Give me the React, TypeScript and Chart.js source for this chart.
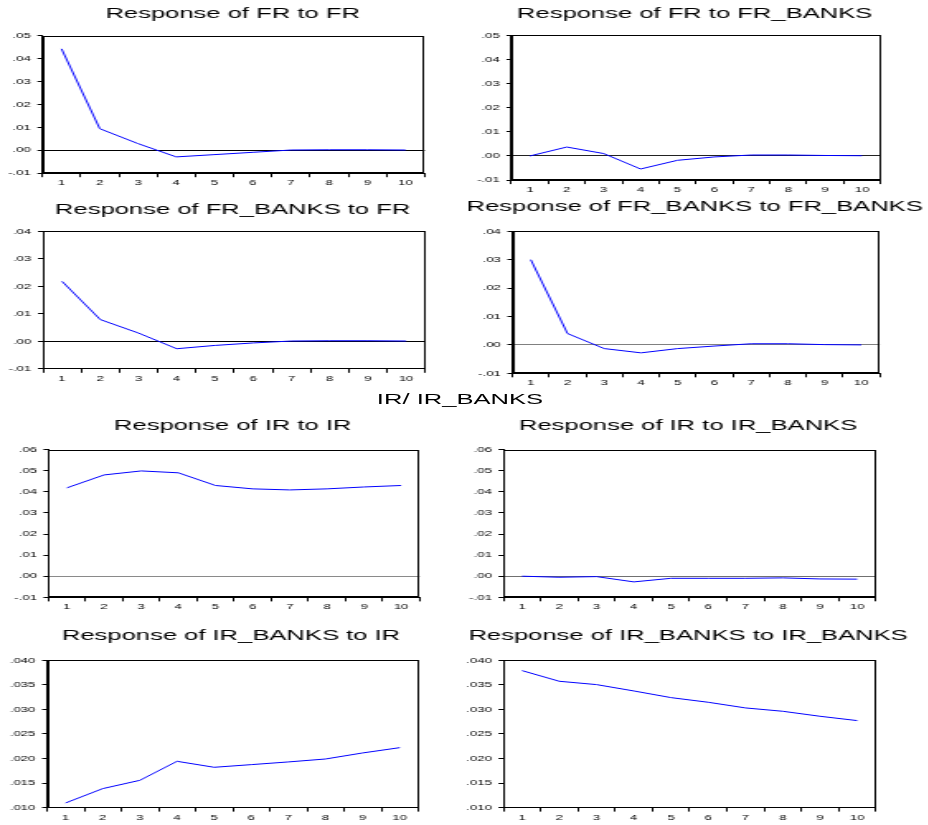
import React, { useEffect, useRef } from "react";
import { Chart, registerables } from "chart.js";

Chart.register(...registerables);

// Horizontal stretch applied to the whole figure (text and lines alike).
const STRETCH = 1.65;
const FONT = '"Liberation Sans", Arial, Helvetica, sans-serif';

// Horizon (periods after the shock)
const periods = ["1", "2", "3", "4", "5", "6", "7", "8", "9", "10"];

// Impulse responses
const frToFr = [0.0442, 0.0094, 0.0029, -0.0029, -0.0019, -0.0009, 0.0001, 0.0002, 0.0002, 0.0001];
const frToFrBanks = [0.0, 0.0037, 0.001, -0.0054, -0.0018, -0.0004, 0.0004, 0.0004, 0.0002, 0.0001];
const frBanksToFr = [0.0218, 0.0079, 0.003, -0.0027, -0.0015, -0.0006, 0.0001, 0.0002, 0.0002, 0.0001];
const frBanksToFrBanks = [0.03, 0.004, -0.0013, -0.0028, -0.0013, -0.0004, 0.0004, 0.0004, 0.0001, 0.0];
const irToIr = [0.0419, 0.048, 0.0499, 0.049, 0.043, 0.0414, 0.0409, 0.0414, 0.0423, 0.043];
const irToIrBanks = [0.0, -0.0005, -0.0002, -0.0027, -0.001, -0.001, -0.001, -0.0008, -0.0013, -0.0014];
const irBanksToIr = [0.01095, 0.01387, 0.01556, 0.01943, 0.01821, 0.01875, 0.0193, 0.0199, 0.02113, 0.02221];
const irBanksToIrBanks = [0.0379, 0.03573, 0.03505, 0.03376, 0.0324, 0.03145, 0.0303, 0.02962, 0.0286, 0.02772];

// Panel titles
const titles = [
  "Response of FR to FR",
  "Response of FR to FR_BANKS",
  "Response of FR_BANKS to FR",
  "Response of FR_BANKS to FR_BANKS",
  "Response of IR to IR",
  "Response of IR to IR_BANKS",
  "Response of IR_BANKS to IR",
  "Response of IR_BANKS to IR_BANKS",
];
const sectionLabel = "IR/ IR_BANKS";

// Y-axis ranges: [min, max, step, decimals]
const rangeFr1: [number, number, number, number] = [-0.01, 0.05, 0.01, 2];
const rangeFr2: [number, number, number, number] = [-0.01, 0.04, 0.01, 2];
const rangeIr1: [number, number, number, number] = [-0.01, 0.06, 0.01, 2];
const rangeIr2: [number, number, number, number] = [0.01, 0.04, 0.005, 3];

type PanelSpec = {
  title: string;
  data: number[];
  range: [number, number, number, number];
  zeroColor: string;
  // plot box and title centre, in page pixels
  L: number;
  R: number;
  T: number;
  B: number;
  tx: number;
  ty: number;
};

const panels: PanelSpec[] = [
  { title: titles[0], data: frToFr, range: rangeFr1, zeroColor: "#000000", L: 42.7, R: 425, T: 35, B: 172.7, tx: 233, ty: 12.8 },
  { title: titles[1], data: frToFrBanks, range: rangeFr1, zeroColor: "#222222", L: 511.7, R: 880.7, T: 35, B: 179.8, tx: 695, ty: 13 },
  { title: titles[2], data: frBanksToFr, range: rangeFr2, zeroColor: "#000000", L: 42.7, R: 425, T: 231, B: 368.5, tx: 232.5, ty: 209 },
  { title: titles[3], data: frBanksToFrBanks, range: rangeFr2, zeroColor: "#808080", L: 511.7, R: 879, T: 231.7, B: 373.7, tx: 694, ty: 206.7 },
  { title: titles[4], data: irToIr, range: rangeIr1, zeroColor: "#8a8a8a", L: 47.7, R: 419, T: 450, B: 597.8, tx: 232, ty: 425.7 },
  { title: titles[5], data: irToIrBanks, range: rangeIr1, zeroColor: "#707070", L: 503.3, R: 875.7, T: 450, B: 597.7, tx: 688, ty: 425.7 },
  { title: titles[6], data: irBanksToIr, range: rangeIr2, zeroColor: "#000000", L: 47.7, R: 419, T: 660, B: 807.3, tx: 231.7, ty: 635 },
  { title: titles[7], data: irBanksToIrBanks, range: rangeIr2, zeroColor: "#000000", L: 503.3, R: 875.7, T: 660, B: 807.3, tx: 688, ty: 635 },
];

const TITLE_SIZE = 15.5;
const TICK_SIZE = 8;
const HALF_W = 236; // half width of each panel canvas, page px
const X_AXIS_H = 20; // page px

function formatTick(v: number, decimals: number): string {
  const n = Math.abs(v) < 1e-12 ? 0 : v;
  return n.toFixed(decimals).replace(/^(-?)0\./, "$1.");
}

// Draws the closed box around the plotting area.
const frameBox = {
  id: "frameBox",
  afterDraw(chart: any) {
    const { ctx, chartArea } = chart;
    ctx.save();
    ctx.strokeStyle = "#000";
    ctx.lineWidth = 1;
    const l = Math.round(chartArea.left) + 0.5;
    const t = Math.round(chartArea.top) + 0.5;
    const r = Math.round(chartArea.right) - 0.5;
    const b = Math.round(chartArea.bottom) - 0.5;
    ctx.strokeRect(l, t, r - l, b - t);
    ctx.restore();
  },
};

function Panel({ spec }: { spec: PanelSpec }) {
  const ref = useRef<HTMLCanvasElement | null>(null);

  // Canvas centred on the title so the title plugin centres it there.
  const cl = spec.tx - HALF_W;
  const w = Math.round((2 * HALF_W) / STRETCH);
  const titleBox = TITLE_SIZE * 1.2;
  const ct = spec.ty - titleBox / 2;
  const h = Math.ceil(spec.B - ct + X_AXIS_H);
  const yAxisW = (spec.L - cl) / STRETCH;
  const rightW = w - (spec.R - cl) / STRETCH;
  const xAxisH = h - (spec.B - ct);
  const titlePadBottom = spec.T - ct - titleBox;

  useEffect(() => {
    if (!ref.current) return;
    const [min, max, step, dec] = spec.range;
    const chart = new Chart(ref.current, {
      type: "line",
      data: {
        labels: periods,
        datasets: [
          {
            data: spec.data,
            borderColor: "#0000ff",
            borderWidth: 1,
            pointRadius: 0,
            pointHoverRadius: 0,
            tension: 0,
            fill: false,
            yAxisID: "y",
          },
        ],
      },
      options: {
        responsive: false,
        animation: false,
        devicePixelRatio: 1,
        layout: { padding: 0 },
        plugins: {
          legend: { display: false },
          tooltip: { enabled: false },
          title: {
            display: true,
            text: spec.title,
            color: "#000",
            font: { family: FONT, size: TITLE_SIZE, weight: "normal", lineHeight: 1.2 },
            padding: { top: 0, bottom: titlePadBottom },
          },
        },
        scales: {
          x: {
            type: "category",
            offset: true,
            grid: {
              offset: true,
              drawOnChartArea: false,
              color: "rgba(0,0,0,0)",
              tickColor: "#000",
              tickLength: 4,
            },
            border: { display: true, color: "#000", width: 1 },
            ticks: {
              color: "#000",
              font: { family: FONT, size: TICK_SIZE },
              padding: 1,
              maxRotation: 0,
              autoSkip: false,
            },
            afterFit: (scale: any) => {
              scale.height = xAxisH;
            },
          },
          y: {
            position: "left",
            min,
            max,
            grid: {
              color: (c: any) => (Math.abs(c.tick?.value ?? 1) < 1e-12 ? spec.zeroColor : "rgba(0,0,0,0)"),
              tickColor: "#000",
              tickLength: 3,
              lineWidth: 1,
            },
            border: { display: true, color: "#000", width: 1 },
            ticks: {
              stepSize: step,
              color: "#000",
              font: { family: FONT, size: TICK_SIZE },
              padding: 4,
              callback: (v: any) => formatTick(Number(v), dec),
            },
            afterFit: (scale: any) => {
              scale.width = yAxisW;
            },
          },
          // empty right-hand spacer that fixes where the plot box ends
          spacer: {
            type: "linear",
            position: "right",
            min,
            max,
            grid: { display: false, drawTicks: false },
            border: { display: false },
            ticks: { display: false },
            afterFit: (scale: any) => {
              scale.width = rightW;
            },
          },
        },
      },
      plugins: [frameBox],
    });
    return () => chart.destroy();
  }, []);

  return (
    <canvas
      ref={ref}
      width={w}
      height={h}
      style={{
        position: "absolute",
        left: cl / STRETCH,
        top: ct,
        width: w,
        height: h,
      }}
    />
  );
}

export default function App() {
  return (
    <div
      style={{
        position: "absolute",
        left: 0,
        top: 0,
        width: 928 / STRETCH,
        height: 825,
        background: "#fff",
        transform: `scaleX(${STRETCH})`,
        transformOrigin: "0 0",
        overflow: "hidden",
      }}
    >
      {panels.map((p, i) => (
        <Panel key={i} spec={p} />
      ))}
      <div
        style={{
          position: "absolute",
          left: 460 / STRETCH,
          top: 399 - 9.3,
          transform: "translateX(-50%)",
          font: `${TITLE_SIZE}px ${FONT}`,
          lineHeight: "18.6px",
          whiteSpace: "nowrap",
          color: "#000",
        }}
      >
        {sectionLabel}
      </div>
    </div>
  );
}
